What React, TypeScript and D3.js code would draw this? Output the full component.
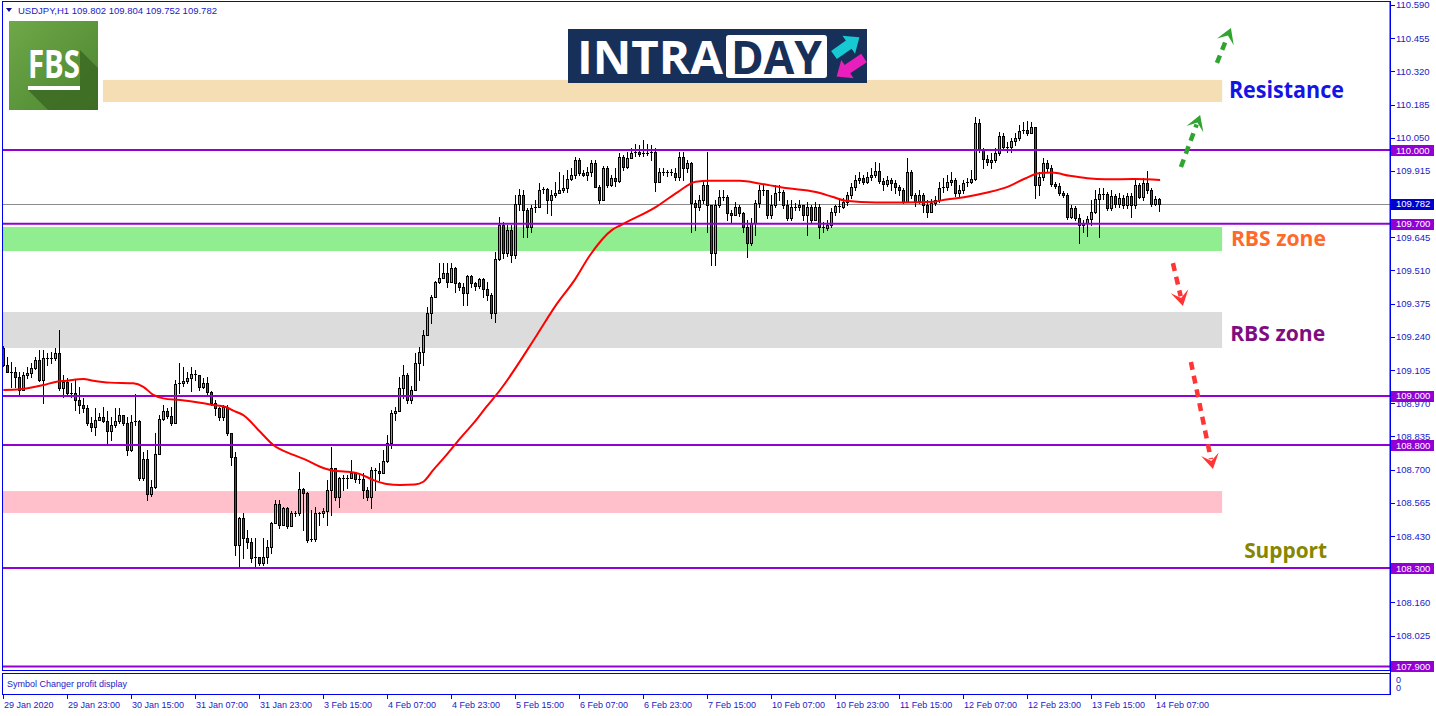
import React from "react";
import * as d3 from "d3";

// ---------- DATA ----------
const symbolHeader = "USDJPY,H1  109.802 109.804 109.752 109.782";
const firstOpen = 109.195;

const closePrices = [
  109.126, 109.098, 109.098, 109.078, 109.024, 109.085, 109.092, 109.112, 109.146, 109.065,
  109.153, 109.155, 109.153, 109.173, 109.031, 109.058, 109.010, 109.013, 108.983, 108.963,
  108.949, 108.891, 108.872, 108.902, 108.915, 108.899, 108.858, 108.882, 108.898, 108.922,
  108.888, 108.780, 108.895, 108.899, 108.665, 108.742, 108.601, 108.628, 108.764, 108.905,
  108.939, 108.918, 108.888, 109.047, 109.051, 109.061, 109.071, 109.088, 109.085, 109.037,
  109.051, 109.017, 108.970, 108.949, 108.913, 108.954, 108.848, 108.753, 108.394, 108.502,
  108.421, 108.407, 108.340, 108.344, 108.319, 108.346, 108.387, 108.482, 108.560, 108.475,
  108.543, 108.471, 108.525, 108.524, 108.620, 108.604, 108.414, 108.417, 108.522, 108.522,
  108.533, 108.617, 108.705, 108.590, 108.665, 108.667, 108.667, 108.688, 108.661, 108.662,
  108.617, 108.590, 108.699, 108.696, 108.688, 108.736, 108.810, 108.932, 108.939, 109.032,
  109.085, 108.983, 109.024, 109.132, 109.180, 109.248, 109.336, 109.403, 109.462, 109.478,
  109.501, 109.464, 109.519, 109.458, 109.444, 109.417, 109.488, 109.458, 109.447, 109.474,
  109.433, 109.410, 109.336, 109.555,
  109.695, 109.581, 109.675, 109.573, 109.780, 109.817, 109.756, 109.688, 109.763, 109.769,
  109.837, 109.840, 109.797, 109.817, 109.824, 109.837, 109.844, 109.881, 109.898, 109.959,
  109.905, 109.898, 109.912, 109.946, 109.851, 109.797, 109.926, 109.858, 109.885, 109.874,
  109.973, 109.932, 109.969, 109.987, 109.993, 109.984, 109.987, 109.987, 109.993, 109.871,
  109.912, 109.912, 109.912, 109.905, 109.891, 109.973, 109.926, 109.946, 109.783, 109.769,
  109.797, 109.858, 109.776, 109.580, 109.776, 109.808, 109.808, 109.742, 109.736, 109.769,
  109.742, 109.688, 109.621, 109.702, 109.783, 109.837, 109.837, 109.736, 109.776, 109.824,
  109.830, 109.776, 109.722, 109.769, 109.769, 109.776, 109.736, 109.769, 109.715, 109.769,
  109.688, 109.682, 109.695, 109.749, 109.772, 109.769, 109.790, 109.817, 109.851, 109.878,
  109.885, 109.871, 109.891, 109.898, 109.915, 109.875, 109.862, 109.878, 109.866, 109.851,
  109.837, 109.790, 109.909, 109.817, 109.794, 109.817, 109.776, 109.749, 109.786, 109.797,
  109.844, 109.848, 109.871, 109.878, 109.824, 109.837, 109.865, 109.871, 109.881, 110.109,
  110.000, 109.962, 109.952, 109.959, 109.987, 110.057, 110.013, 110.011, 110.038, 110.048,
  110.078, 110.081, 110.068, 110.092, 109.858, 109.891, 109.946, 109.926, 109.862, 109.854,
  109.826, 109.817, 109.729, 109.763, 109.722, 109.695, 109.702, 109.718, 109.749, 109.799,
  109.821, 109.821, 109.763, 109.813, 109.779, 109.804, 109.776, 109.813, 109.776, 109.858,
  109.810, 109.865, 109.837, 109.780, 109.802, 109.782,
];

const highPrices = [
  109.203, 109.159, 109.139, 109.119, 109.098, 109.098, 109.119, 109.135, 109.159, 109.187,
  109.187, 109.174, 109.180, 109.194, 109.268, 109.085, 109.071, 109.052, 109.065, 109.037,
  108.990, 108.963, 108.915, 108.949, 108.930, 108.954, 108.940, 108.915, 108.949, 108.949,
  108.922, 108.915, 108.922, 109.008, 108.902, 108.773, 108.780, 108.658, 108.848, 108.922,
  108.963, 108.949, 108.956, 109.065, 109.132, 109.119, 109.098, 109.119, 109.105, 109.078,
  109.071, 109.078, 109.020, 108.983, 108.955, 108.963, 108.963, 108.849, 108.773, 108.509,
  108.522, 108.455, 108.421, 108.421, 108.346, 108.421, 108.414, 108.488, 108.577, 108.577,
  108.549, 108.548, 108.532, 108.532, 108.692, 108.624, 108.610, 108.536, 108.547, 108.529,
  108.544, 108.658, 108.793, 108.699, 108.671, 108.678, 108.678, 108.739, 108.692, 108.678,
  108.685, 108.631, 108.712, 108.705, 108.726, 108.780, 108.841, 108.943, 108.956, 109.078,
  109.126, 109.093, 109.040, 109.173, 109.200, 109.268, 109.363, 109.410, 109.468, 109.539,
  109.539, 109.539, 109.539, 109.525, 109.464, 109.458, 109.492, 109.492, 109.464, 109.478,
  109.478, 109.464, 109.417, 109.586,
  109.727, 109.707, 109.695, 109.695, 109.817, 109.841, 109.837, 109.764, 109.776, 109.797,
  109.866, 109.850, 109.845, 109.837, 109.870, 109.911, 109.898, 109.919, 109.927, 109.971,
  109.967, 109.919, 109.931, 109.959, 109.959, 109.858, 109.935, 109.935, 109.898, 109.927,
  109.988, 109.980, 109.992, 110.008, 110.024, 110.020, 110.041, 110.024, 110.020, 110.008,
  109.927, 109.927, 109.919, 109.923, 109.927, 109.992, 109.992, 109.959, 109.951, 109.797,
  109.817, 109.878, 109.993, 109.776, 109.797, 109.837, 109.837, 109.817, 109.756, 109.788,
  109.776, 109.748, 109.715, 109.723, 109.797, 109.858, 109.858, 109.837, 109.817, 109.858,
  109.858, 109.837, 109.797, 109.797, 109.784, 109.797, 109.776, 109.788, 109.776, 109.788,
  109.780, 109.707, 109.715, 109.764, 109.776, 109.797, 109.805, 109.829, 109.866, 109.898,
  109.911, 109.898, 109.911, 109.927, 109.951, 109.947, 109.886, 109.894, 109.886, 109.878,
  109.858, 109.845, 109.967, 109.919, 109.825, 109.837, 109.825, 109.797, 109.801, 109.813,
  109.870, 109.886, 109.898, 109.911, 109.886, 109.858, 109.878, 109.886, 109.919, 110.134,
  110.126, 110.008, 109.980, 109.988, 110.008, 110.073, 110.069, 110.032, 110.049, 110.069,
  110.102, 110.114, 110.118, 110.114, 110.089, 109.911, 109.967, 109.959, 109.939, 109.870,
  109.866, 109.833, 109.825, 109.776, 109.772, 109.740, 109.715, 109.732, 109.797, 109.837,
  109.845, 109.845, 109.829, 109.837, 109.821, 109.825, 109.817, 109.825, 109.825, 109.878,
  109.866, 109.886, 109.915, 109.845, 109.813, 109.804,
];

const lowPrices = [
  109.122, 109.097, 109.037, 109.037, 109.004, 109.024, 109.073, 109.077, 109.109, 109.061,
  108.971, 109.126, 109.134, 109.146, 109.024, 108.997, 109.004, 108.995, 108.943, 108.929,
  108.934, 108.882, 108.858, 108.841, 108.902, 108.894, 108.800, 108.821, 108.873, 108.890,
  108.882, 108.760, 108.777, 108.882, 108.658, 108.658, 108.577, 108.593, 108.625, 108.764,
  108.902, 108.910, 108.882, 108.888, 109.010, 109.040, 109.052, 109.021, 109.065, 109.024,
  109.032, 109.004, 108.963, 108.922, 108.902, 108.902, 108.841, 108.719, 108.353, 108.305,
  108.339, 108.381, 108.326, 108.305, 108.312, 108.312, 108.319, 108.360, 108.483, 108.463,
  108.475, 108.463, 108.471, 108.511, 108.516, 108.455, 108.407, 108.410, 108.411, 108.475,
  108.507, 108.475, 108.516, 108.577, 108.549, 108.617, 108.625, 108.666, 108.651, 108.646,
  108.583, 108.577, 108.543, 108.617, 108.658, 108.686, 108.731, 108.787, 108.902, 108.939,
  108.991, 108.971, 108.971, 109.024, 109.065, 109.126, 109.248, 109.296, 109.403, 109.459,
  109.479, 109.443, 109.464, 109.424, 109.431, 109.370, 109.370, 109.444, 109.431, 109.439,
  109.403, 109.390, 109.316, 109.302,
  109.553, 109.561, 109.569, 109.545, 109.561, 109.756, 109.646, 109.646, 109.666, 109.748,
  109.768, 109.825, 109.744, 109.736, 109.809, 109.825, 109.829, 109.829, 109.878, 109.886,
  109.898, 109.894, 109.878, 109.894, 109.849, 109.784, 109.797, 109.849, 109.854, 109.854,
  109.870, 109.919, 109.927, 109.967, 109.976, 109.976, 109.976, 109.980, 109.959, 109.833,
  109.870, 109.898, 109.894, 109.898, 109.878, 109.878, 109.878, 109.911, 109.668, 109.675,
  109.756, 109.784, 109.668, 109.532, 109.532, 109.768, 109.797, 109.715, 109.707, 109.736,
  109.732, 109.666, 109.566, 109.614, 109.654, 109.768, 109.817, 109.723, 109.723, 109.768,
  109.797, 109.764, 109.715, 109.715, 109.756, 109.756, 109.715, 109.654, 109.707, 109.715,
  109.642, 109.666, 109.675, 109.687, 109.736, 109.748, 109.764, 109.776, 109.805, 109.837,
  109.866, 109.862, 109.866, 109.878, 109.890, 109.866, 109.837, 109.854, 109.837, 109.825,
  109.817, 109.784, 109.797, 109.805, 109.772, 109.784, 109.748, 109.727, 109.748, 109.776,
  109.788, 109.829, 109.837, 109.858, 109.813, 109.813, 109.825, 109.854, 109.866, 109.878,
  109.992, 109.927, 109.939, 109.927, 109.951, 109.980, 110.000, 109.992, 109.992, 110.020,
  110.041, 110.069, 110.061, 110.069, 109.805, 109.817, 109.878, 109.911, 109.854, 109.846,
  109.817, 109.809, 109.719, 109.723, 109.715, 109.622, 109.666, 109.650, 109.695, 109.744,
  109.646, 109.801, 109.756, 109.756, 109.768, 109.768, 109.764, 109.764, 109.729, 109.764,
  109.805, 109.797, 109.825, 109.772, 109.776, 109.752,
];

// Moving average (red line), sampled along the picture: bar position and price
const maBarIndex = [
  0, 4.2, 6.7, 10, 13.3, 15.8, 20, 22.5, 26.7, 32.5, 35, 37.5, 40, 44.2, 49.2, 52.5, 55.8, 57.5, 60, 64.2,
  67.5, 72.5, 75.8, 79.2, 82.5, 85.8, 89.2, 92.5, 95.8, 99.2, 102.9, 105, 107.5, 110.8, 114.2, 117.5, 120.8, 124.2, 133.4, 138.2,
  142.8, 146.7, 152.2, 154.4, 163.2, 168.7, 173.1, 176.4, 184.1, 189.6, 196.2, 202.8, 207.2, 210.5, 218.2, 224.8, 232.5, 235.8, 240.2, 245.7,
  251.2, 255.6, 258.9, 262.2, 266.6, 271, 275.4, 283.1, 289.2,
];
const maPrices = [
  109.024, 109.027, 109.033, 109.044, 109.058, 109.062, 109.069, 109.062, 109.054, 109.051, 109.037, 109.004, 108.990, 108.983, 108.972, 108.963, 108.954, 108.940, 108.922, 108.854,
  108.800, 108.760, 108.739, 108.712, 108.696, 108.692, 108.682, 108.658, 108.642, 108.638, 108.640, 108.651, 108.699, 108.760, 108.827, 108.888, 108.956, 109.024, 109.248, 109.370,
  109.471, 109.573, 109.675, 109.695, 109.769, 109.830, 109.871, 109.875, 109.875, 109.862, 109.844, 109.830, 109.810, 109.794, 109.787, 109.787, 109.790, 109.799, 109.808, 109.826,
  109.851, 109.885, 109.905, 109.908, 109.895, 109.885, 109.881, 109.882, 109.878,
];

const levelPrices = [110.0, 109.7, 109.0, 108.8, 108.3, 107.9];
const bidPrice = 109.782;

const axisTickPrices = [
  110.59, 110.455, 110.32, 110.185, 110.05, 109.915, 109.78, 109.645, 109.51, 109.375, 109.24,
  109.105, 108.97, 108.835, 108.7, 108.565, 108.43, 108.295, 108.16, 108.025, 107.89,
];

const timeLabels = [
  "29 Jan 2020", "29 Jan 23:00", "30 Jan 15:00", "31 Jan 07:00", "31 Jan 23:00", "3 Feb 15:00",
  "4 Feb 07:00", "4 Feb 23:00", "5 Feb 15:00", "6 Feb 07:00", "6 Feb 23:00", "7 Feb 15:00",
  "10 Feb 07:00", "10 Feb 23:00", "11 Feb 15:00", "12 Feb 07:00", "12 Feb 23:00", "13 Feb 15:00", "14 Feb 07:00",
];
const timeLabelBars = [0, 16, 32, 48, 64, 80, 96, 112, 128, 144, 160, 176, 192, 208, 224, 240, 256, 272, 288];

// Zones (bar range, price range)
const zoneFromBar = [24.9, -5, -5, -5];
const zoneToBar = [304.7, 304.7, 304.7, 304.7];
const zoneTopPrice = [110.285, 109.687, 109.341, 108.613];
const zoneBottomPrice = [110.195, 109.589, 109.195, 108.524];

// Text annotations
const noteTexts = ["Resistance", "RBS zone", "RBS zone", "Support"];
const noteBars = [306.4, 306.9, 306.7, 310.2];
const notePrices = [110.211, 109.61, 109.224, 108.341];

// Dashed arrows
const arrowFromBar = [294.4, 303.4, 292.4, 296.9];
const arrowFromPrice = [109.931, 110.354, 109.54, 109.138];
const arrowToBar = [299.2, 306.9, 294.9, 302.4];
const arrowToPrice = [110.142, 110.496, 109.366, 108.703];

// ---------- STYLES ----------
const zoneFills = ["#f5deb3", "#90ee90", "#dcdcdc", "#ffc0cb"];
const noteColors = ["#1414e6", "#ff6a2a", "#800d80", "#868600"];
const noteSizes = [23, 22, 22, 22];
const noteWidths = [115, 95, 95, 83];
const arrowColors = ["#2fa52f", "#2fa52f", "#ff3535", "#ff3535"];
const frameBlue = "#0000f0";
const textBlue = "#1a1ac8";
const purple = "#9400d3";

export default function App() {
  const xs = d3.scaleLinear().domain([0, 300]).range([3.33, 1203.33]);
  const ys = d3.scaleLinear().domain([107.9, 110.0]).range([666.4, 150]);

  const candles = closePrices.map((c, i) => {
    const o = i === 0 ? firstOpen : closePrices[i - 1];
    const h = Math.max(highPrices[i], o, c);
    const l = Math.min(lowPrices[i], o, c);
    return { i, o, h, l, c };
  });

  const maLine = d3
    .line<number>()
    .x((_, i) => xs(maBarIndex[i]))
    .y((d) => ys(d))
    .curve(d3.curveMonotoneX)(maPrices) as string;

  const font = "'Liberation Sans', Arial, sans-serif";
  const boldFont = "'Open Sans', 'DejaVu Sans', sans-serif";

  const arrows = arrowFromBar.map((_, k) => {
    const sx = xs(arrowFromBar[k]);
    const sy = ys(arrowFromPrice[k]);
    const ex = xs(arrowToBar[k]);
    const ey = ys(arrowToPrice[k]);
    const len = Math.hypot(ex - sx, ey - sy);
    const dx = (ex - sx) / len;
    const dy = (ey - sy) / len;
    const nx = -dy;
    const ny = dx;
    const hl = 15;
    const hw = 9;
    const head = [
      [ex, ey],
      [ex - dx * hl + nx * hw, ey - dy * hl + ny * hw],
      [ex - dx * 8, ey - dy * 8],
      [ex - dx * hl - nx * hw, ey - dy * hl - ny * hw],
    ]
      .map((p) => p.join(","))
      .join(" ");
    return { sx, sy, lx: ex - dx * 10, ly: ey - dy * 10, head, color: arrowColors[k] };
  });

  const blockArrow = (L: number) =>
    `0,-5 ${L - 13},-5 ${L - 13},-11 ${L},0 ${L - 13},11 ${L - 13},5 0,5`;

  return (
    <svg
      width={1436}
      height={716}
      style={{ position: "absolute", left: 0, top: 0, display: "block", background: "#fff" }}
    >
      <defs>
        <clipPath id="plot">
          <rect x={3} y={2} width={1387} height={668} />
        </clipPath>
        <linearGradient id="fbsg" x1="0" y1="0" x2="1" y2="1">
          <stop offset="0" stopColor="#6ea848" />
          <stop offset="1" stopColor="#4c8530" />
        </linearGradient>
      </defs>
      <rect x={0} y={0} width={1436} height={716} fill="#fff" />

      <g clipPath="url(#plot)">
        {/* zones */}
        {zoneFills.map((f, k) => (
          <rect
            key={"z" + k}
            x={xs(zoneFromBar[k])}
            y={ys(zoneTopPrice[k])}
            width={xs(zoneToBar[k]) - xs(zoneFromBar[k])}
            height={ys(zoneBottomPrice[k]) - ys(zoneTopPrice[k])}
            fill={f}
          />
        ))}
        {/* bid line */}
        <line x1={3} x2={1390} y1={Math.round(ys(bidPrice)) + 0.5} y2={Math.round(ys(bidPrice)) + 0.5} stroke="#8c8c8c" strokeWidth={1} />
        {/* candles */}
        {candles.map((d) => {
          const cx = Math.round(xs(d.i));
          const top = Math.round(ys(Math.max(d.o, d.c)));
          const bot = Math.round(ys(Math.min(d.o, d.c)));
          const hy = Math.round(ys(d.h));
          const ly = Math.round(ys(d.l));
          const bull = d.c >= d.o;
          return (
            <g key={"c" + d.i}>
              <line x1={cx + 0.5} x2={cx + 0.5} y1={hy} y2={ly + 1} stroke="#000" strokeWidth={1} />
              {bot - top < 2 ? (
                <line x1={cx - 1} x2={cx + 2} y1={top + 0.5} y2={top + 0.5} stroke="#000" strokeWidth={1} />
              ) : (
                <rect
                  x={cx - 0.5}
                  y={top + 0.5}
                  width={2}
                  height={bot - top}
                  fill={bull ? "#00ff00" : "#ff0000"}
                  stroke="#000"
                  strokeWidth={1}
                />
              )}
            </g>
          );
        })}
        {/* horizontal levels */}
        {levelPrices.map((p, k) => (
          <line key={"l" + k} x1={3} x2={1390} y1={ys(p)} y2={ys(p)} stroke={purple} strokeWidth={2} />
        ))}
        {/* moving average */}
        <path d={maLine} fill="none" stroke="#ff0000" strokeWidth={2} />
      </g>

      {/* frame */}
      <rect x={2.5} y={1.5} width={1387.5} height={669} fill="none" stroke={frameBlue} strokeWidth={1} />
      <rect x={2.5} y={673.5} width={1387.5} height={21} fill="none" stroke={frameBlue} strokeWidth={1} />
      <line x1={1390.5} x2={1390.5} y1={1} y2={695} stroke={frameBlue} strokeWidth={1} />
      <text x={7} y={687} fontFamily={font} fontSize={9} fill={textBlue}>
        Symbol Changer profit display
      </text>
      <text x={1396} y={683} fontFamily={font} fontSize={9} fill={textBlue}>0</text>
      <text x={1396} y={691} fontFamily={font} fontSize={9} fill={textBlue}>0</text>

      {/* header */}
      <polygon points="6,8 12,8 9,12" fill="#10108c" />
      <text x={18} y={14} fontFamily={font} fontSize={9.5} fill={textBlue}>
        {symbolHeader}
      </text>

      {/* price axis */}
      {axisTickPrices.map((p, k) => (
        <g key={"t" + k}>
          <line x1={1391} x2={1395} y1={Math.round(ys(p)) + 0.5} y2={Math.round(ys(p)) + 0.5} stroke={frameBlue} />
          <text x={1396} y={ys(p) + 3.5} fontFamily={font} fontSize={9.5} fill={textBlue}>
            {p.toFixed(3)}
          </text>
        </g>
      ))}
      {levelPrices.map((p, k) => (
        <g key={"b" + k}>
          <rect x={1391} y={Math.round(ys(p)) - 5} width={43} height={11} fill={purple} />
          <text x={1396} y={ys(p) + 3.5} fontFamily={font} fontSize={9.5} fill="#fff">
            {p.toFixed(3)}
          </text>
        </g>
      ))}
      <rect x={1391} y={Math.round(ys(bidPrice)) - 5} width={43} height={11} fill="#0000cd" />
      <text x={1396} y={ys(bidPrice) + 3.5} fontFamily={font} fontSize={9.5} fill="#fff">
        {bidPrice.toFixed(3)}
      </text>

      {/* time axis */}
      {timeLabels.map((t, k) => {
        const tx = Math.round(xs(timeLabelBars[k]));
        return (
          <g key={"x" + k}>
            <line x1={tx + 0.5} x2={tx + 0.5} y1={695} y2={699} stroke={frameBlue} />
            <text x={tx + 1} y={708} fontFamily={font} fontSize={9} fill={textBlue}>
              {t}
            </text>
          </g>
        );
      })}

      {/* annotations */}
      {arrows.map((a, k) => (
        <g key={"a" + k}>
          <line x1={a.sx} y1={a.sy} x2={a.lx} y2={a.ly} stroke={a.color} strokeWidth={4.5} strokeDasharray="8 6" />
          <polygon points={a.head} fill={a.color} />
        </g>
      ))}
      {noteTexts.map((t, k) => (
        <text
          key={"n" + k}
          x={xs(noteBars[k])}
          y={ys(notePrices[k])}
          fontFamily={boldFont}
          fontWeight={700}
          fontSize={noteSizes[k]}
          fill={noteColors[k]}
          textLength={noteWidths[k]}
          lengthAdjust="spacingAndGlyphs"
        >
          {t}
        </text>
      ))}

      {/* FBS logo */}
      <g>
        <rect x={9} y={21} width={89} height={89} fill="url(#fbsg)" />
        <polygon points="80,50 98,68 98,110 48,110 28,90 80,90" fill="#3c6a22" opacity={0.85} />
        <text x={28} y={78} fontFamily={boldFont} fontWeight={700} fontSize={39} fill="#fff" textLength={52} lengthAdjust="spacingAndGlyphs">
          FBS
        </text>
        <rect x={28} y={86} width={52} height={4} fill="#fff" />
      </g>

      {/* INTRADAY logo */}
      <g>
        <rect x={568} y={29} width={299} height={54} fill="#17305a" />
        <text x={577} y={73.5} fontFamily={boldFont} fontWeight={700} fontSize={46} fill="#fff" textLength={146} lengthAdjust="spacingAndGlyphs">
          INTRA
        </text>
        <rect x={726} y={35} width={101} height={43} rx={3} fill="#fff" />
        <text x={731} y={73.5} fontFamily={boldFont} fontWeight={700} fontSize={46} fill="#17305a" textLength={91} lengthAdjust="spacingAndGlyphs">
          DAY
        </text>
        <polygon points={blockArrow(31)} fill="#17c9d2" transform="translate(834,55) rotate(-35)" />
        <polygon points={blockArrow(33)} fill="#e91fbd" transform="translate(864,58) rotate(146)" />
      </g>
    </svg>
  );
}
